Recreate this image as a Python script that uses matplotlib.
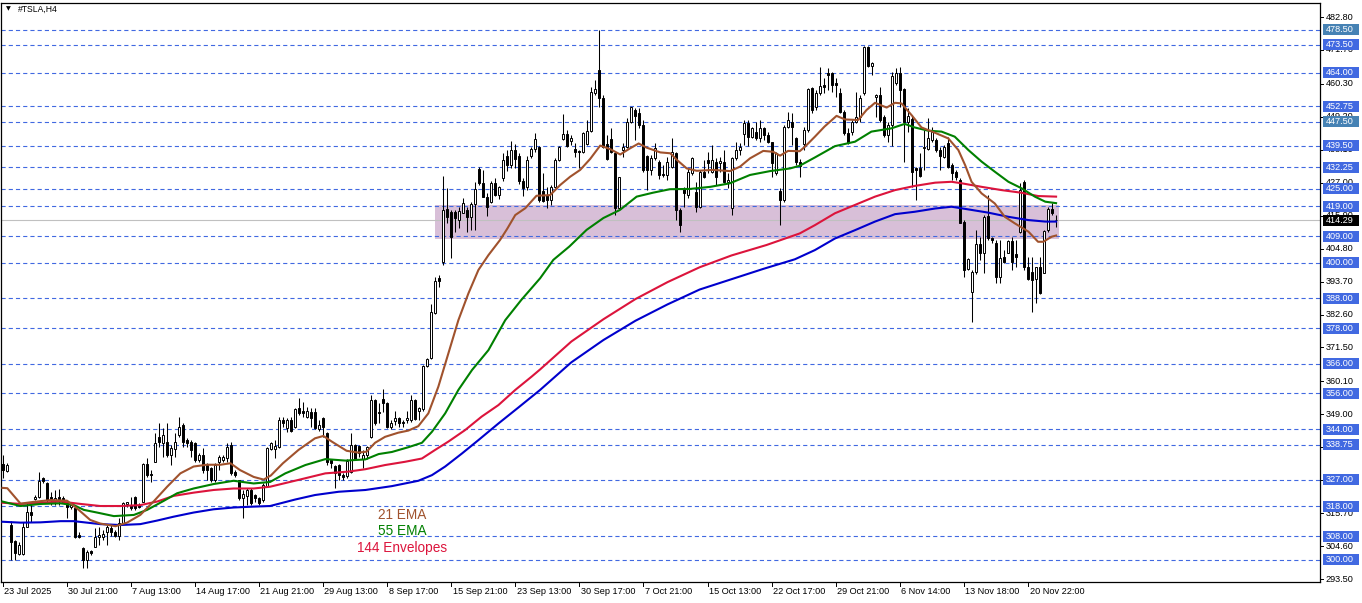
import numpy as np
import matplotlib
matplotlib.use("Agg")
import matplotlib.pyplot as plt
from matplotlib.patches import Rectangle
from matplotlib.lines import Line2D

plt.rcParams['lines.scale_dashes'] = False

# ---------------- DATA ----------------
symbol_title = "#TSLA,H4"

opens = [332.2, 330.0, 311.7, 306.4, 301.9, 301.8, 311.1, 316.2, 320.3, 321.0,
         327.4, 325.9, 321.2, 319.8, 321.0, 320.7, 319.0, 317.6, 317.3, 308.3,
         303.8, 299.9, 303.0, 304.4, 307.8, 307.8, 309.5, 310.6, 309.5, 308.1,
         312.5, 318.9, 318.4, 321.0, 318.4, 319.6, 332.2, 328.8, 333.0, 341.5,
         339.2, 339.8, 335.3, 337.2, 342.0, 345.4, 340.3, 339.8, 339.2, 333.6,
         335.3, 331.9, 330.8, 326.9, 333.0, 333.6, 334.2, 338.6, 329.7, 326.9,
         320.7, 321.5, 323.5, 321.8, 320.7, 320.1, 325.0, 337.2, 337.4, 338.1,
         347.1, 344.3, 347.1, 344.8, 351.0, 350.2, 348.2, 349.6, 349.9, 343.9,
         347.6, 342.8, 333.6, 331.6, 331.9, 328.5, 328.2, 329.7, 338.6, 338.3,
         334.1, 335.3, 341.4, 353.8, 349.9, 354.0, 352.9, 344.8, 346.9, 347.6,
         346.5, 347.1, 347.1, 353.8, 350.2, 350.7, 365.2, 367.8, 383.2, 394.8,
         400.4, 418.0, 417.2, 417.2, 414.5, 416.9, 417.8, 415.3, 419.7, 431.5,
         426.8, 422.3, 420.6, 426.8, 422.8, 428.5, 436.0, 433.0, 438.0, 436.0,
         427.5, 425.5, 436.1, 438.3, 439.1, 424.2, 422.8, 421.2, 425.6, 434.6,
         441.7, 443.3, 441.0, 438.3, 437.5, 437.2, 440.0, 444.4, 457.1, 464.9,
         455.4, 440.0, 441.6, 436.9, 418.6, 438.0, 439.1, 447.3, 451.5, 450.4,
         446.4, 436.0, 431.3, 435.2, 433.8, 429.8, 429.6, 432.4, 436.9, 417.8,
         425.1, 422.8, 430.2, 424.0, 418.9, 430.7, 434.6, 430.7, 434.1, 433.5,
         434.1, 427.3, 418.4, 435.2, 438.0, 443.3, 447.0, 442.5, 444.2, 441.9,
         445.3, 443.1, 440.6, 430.1, 424.2, 421.2, 445.9, 447.5, 442.0, 434.1,
         440.0, 444.7, 458.8, 452.6, 457.3, 459.9, 463.8, 463.8, 460.6, 457.1,
         450.9, 443.6, 444.2, 447.6, 449.0, 457.1, 472.8, 466.4, 455.7, 456.5,
         449.2, 443.1, 446.4, 460.5, 463.8, 458.4, 447.6, 448.4, 431.8, 431.8,
         438.6, 438.2, 441.4, 441.4, 438.0, 435.8, 440.2, 432.9, 430.7, 427.9,
         413.9, 397.8, 390.3, 397.0, 406.3, 403.2, 415.8, 408.2, 406.8, 395.3,
         402.1, 403.4, 407.4, 403.0, 410.5, 427.3, 398.7, 397.0, 394.4, 398.5,
         396.7, 411.0, 418.3, 414.4]

highs = [335.3, 332.5, 313.2, 306.6, 306.1, 312.8, 319.0, 319.0, 321.8, 329.7,
         327.8, 326.3, 322.9, 323.5, 323.7, 321.5, 319.6, 319.0, 318.4, 309.5,
         304.4, 303.3, 303.3, 310.6, 311.1, 310.0, 311.7, 311.7, 310.0, 313.9,
         319.6, 319.6, 321.2, 321.5, 319.0, 332.5, 334.2, 330.2, 342.6, 345.9,
         344.3, 345.9, 338.6, 342.6, 348.2, 345.9, 340.9, 340.3, 339.8, 335.8,
         337.5, 332.5, 331.3, 332.5, 335.3, 335.3, 339.2, 339.8, 330.2, 326.9,
         323.5, 324.0, 324.0, 322.3, 321.2, 325.7, 338.0, 339.8, 340.3, 348.2,
         348.2, 347.6, 348.2, 351.0, 354.4, 353.2, 351.6, 351.0, 351.0, 347.1,
         348.0, 343.1, 333.8, 331.9, 332.2, 329.1, 334.0, 342.6, 338.9, 338.6,
         337.0, 338.3, 355.5, 354.0, 352.7, 357.4, 353.2, 347.1, 350.2, 348.2,
         347.0, 350.2, 355.5, 354.0, 351.6, 365.6, 367.8, 386.1, 395.3, 395.9,
         429.3, 425.1, 417.8, 417.8, 418.7, 421.7, 418.9, 420.6, 427.3, 432.4,
         431.3, 423.4, 427.7, 428.5, 426.0, 437.0, 438.0, 441.0, 440.0, 437.0,
         428.5, 436.0, 439.1, 443.6, 439.5, 430.1, 425.6, 426.2, 435.2, 439.5,
         450.0, 444.7, 443.0, 440.2, 438.0, 444.2, 448.1, 459.3, 461.6, 478.4,
         456.5, 443.0, 445.3, 437.4, 429.0, 440.5, 448.7, 452.6, 452.0, 452.0,
         448.1, 436.3, 436.3, 440.2, 434.6, 433.0, 435.8, 441.9, 437.4, 418.4,
         425.6, 431.8, 435.8, 427.3, 431.3, 434.6, 437.4, 439.7, 435.2, 435.8,
         438.0, 430.1, 435.8, 440.8, 440.2, 448.1, 448.1, 445.9, 447.5, 448.1,
         445.9, 444.2, 440.8, 437.4, 425.1, 446.4, 450.9, 450.4, 442.5, 435.0,
         445.6, 458.8, 459.3, 458.2, 466.1, 462.1, 465.5, 464.4, 462.1, 458.8,
         451.5, 445.3, 448.1, 457.6, 456.5, 473.0, 473.0, 467.8, 457.0, 459.3,
         449.8, 447.6, 464.4, 465.5, 466.1, 458.8, 452.0, 449.8, 432.4, 436.9,
         444.7, 448.7, 445.6, 441.9, 439.1, 439.7, 442.5, 433.5, 431.3, 428.5,
         414.4, 401.5, 397.6, 411.0, 408.8, 416.1, 422.8, 408.8, 407.7, 407.7,
         404.3, 407.7, 408.8, 407.7, 426.8, 427.9, 402.1, 402.1, 398.7, 402.1,
         411.0, 418.9, 420.1, 416.1]

lows = [327.4, 329.7, 299.9, 299.9, 301.6, 301.6, 310.9, 312.8, 320.1, 320.7,
        325.7, 319.6, 318.4, 318.4, 318.4, 319.0, 313.9, 317.2, 307.2, 307.2,
        297.1, 297.1, 301.6, 304.4, 305.0, 306.6, 305.0, 308.1, 307.8, 306.6,
        312.3, 317.9, 316.8, 316.8, 317.3, 319.3, 327.8, 326.3, 333.0, 338.1,
        334.7, 334.7, 331.9, 334.7, 341.5, 338.1, 338.1, 334.7, 333.0, 333.0,
        329.1, 326.9, 326.3, 326.3, 330.2, 333.0, 333.0, 328.5, 328.0, 320.1,
        313.9, 318.4, 318.4, 319.6, 318.4, 319.6, 324.5, 337.0, 334.2, 337.5,
        344.8, 343.1, 343.1, 344.5, 348.8, 348.2, 347.6, 344.8, 343.9, 343.5,
        341.4, 331.9, 330.8, 324.1, 326.9, 326.9, 327.5, 329.1, 333.6, 334.7,
        330.8, 334.1, 340.9, 345.4, 346.0, 349.9, 344.3, 343.9, 345.4, 344.8,
        344.8, 346.0, 346.5, 347.1, 347.1, 350.2, 365.0, 367.5, 382.8, 392.0,
        399.3, 413.3, 401.5, 410.5, 411.6, 416.7, 410.5, 411.1, 411.1, 426.2,
        422.1, 415.8, 420.0, 422.5, 421.5, 427.5, 431.0, 432.0, 432.0, 426.5,
        422.5, 424.5, 435.2, 437.4, 420.6, 420.6, 418.4, 419.5, 425.1, 434.3,
        441.4, 439.1, 439.7, 435.8, 431.8, 436.9, 439.7, 444.2, 456.5, 452.6,
        438.6, 434.6, 436.9, 416.1, 418.4, 435.5, 438.6, 447.0, 441.4, 445.3,
        430.7, 424.5, 429.6, 434.6, 428.4, 429.0, 427.9, 432.0, 414.4, 410.5,
        418.9, 421.7, 429.6, 417.2, 418.4, 428.5, 430.1, 430.1, 426.2, 430.7,
        426.8, 425.1, 416.1, 434.6, 436.3, 439.7, 439.5, 441.9, 441.4, 440.8,
        441.4, 440.2, 429.0, 429.6, 412.7, 420.6, 445.3, 439.7, 433.0, 429.0,
        438.0, 444.2, 450.4, 451.5, 456.5, 457.1, 458.2, 457.6, 456.0, 450.4,
        443.1, 440.0, 443.1, 447.0, 447.6, 456.5, 466.1, 463.3, 449.2, 447.6,
        442.5, 440.8, 439.3, 460.0, 452.6, 434.1, 444.0, 425.6, 421.2, 429.0,
        431.3, 438.0, 440.8, 437.4, 431.3, 435.2, 431.8, 427.9, 427.9, 413.3,
        395.3, 397.6, 380.0, 396.4, 400.9, 396.5, 407.7, 406.6, 393.1, 393.1,
        399.8, 403.2, 397.6, 398.7, 410.2, 397.6, 394.2, 383.5, 386.4, 389.5,
        396.5, 410.5, 416.1, 412.2]

closes = [330.2, 331.9, 306.1, 302.2, 304.9, 311.1, 316.2, 315.1, 321.2, 326.6,
          326.6, 320.1, 320.1, 320.7, 319.9, 319.6, 317.9, 318.4, 307.8, 307.8,
          299.9, 302.7, 302.2, 307.8, 308.3, 308.7, 311.1, 309.2, 308.1, 312.5,
          319.0, 319.3, 317.3, 317.3, 317.9, 332.2, 328.5, 328.5, 339.2, 339.8,
          342.0, 335.3, 337.5, 339.8, 344.8, 339.8, 339.2, 337.0, 333.6, 335.3,
          330.2, 330.2, 326.9, 331.9, 334.7, 334.7, 338.1, 329.1, 328.5, 320.7,
          322.1, 323.5, 319.0, 320.7, 319.0, 325.2, 337.5, 339.2, 338.3, 347.1,
          346.0, 347.1, 343.5, 350.7, 349.3, 349.5, 350.2, 347.6, 344.3, 345.4,
          344.8, 333.0, 332.5, 329.1, 328.5, 328.0, 333.2, 338.6, 334.1, 335.8,
          335.3, 337.9, 353.8, 346.0, 349.3, 352.9, 344.8, 346.0, 347.6, 345.9,
          346.0, 347.6, 353.8, 347.3, 351.0, 365.2, 367.5, 383.6, 394.0, 394.0,
          417.8, 415.3, 408.8, 415.0, 417.5, 420.3, 415.3, 419.8, 424.8, 426.8,
          422.3, 418.9, 426.8, 423.0, 425.4, 434.6, 433.0, 438.0, 435.0, 427.5,
          425.3, 434.5, 438.3, 441.7, 421.2, 420.8, 421.2, 425.6, 434.6, 439.1,
          443.3, 439.5, 442.2, 437.4, 437.3, 443.6, 444.4, 457.6, 458.4, 455.6,
          439.1, 434.9, 437.4, 418.6, 428.8, 439.0, 447.3, 452.4, 449.6, 446.4,
          431.3, 431.3, 435.2, 438.8, 429.6, 429.6, 434.1, 437.2, 417.8, 412.7,
          423.4, 430.7, 435.2, 418.9, 430.7, 429.0, 433.5, 434.6, 429.0, 434.3,
          427.3, 427.9, 435.2, 438.0, 439.1, 447.0, 442.5, 445.5, 441.9, 445.3,
          443.1, 440.8, 433.5, 436.9, 421.2, 445.9, 448.1, 445.9, 434.1, 432.6,
          444.9, 458.4, 451.5, 457.3, 459.6, 459.3, 463.3, 459.9, 460.0, 450.9,
          443.6, 440.2, 447.6, 449.2, 455.4, 472.8, 466.3, 467.2, 456.5, 448.1,
          443.1, 446.4, 462.9, 463.8, 458.2, 447.6, 449.5, 430.7, 431.3, 429.2,
          438.9, 441.9, 444.2, 438.0, 436.0, 439.1, 432.4, 430.1, 429.0, 413.5,
          397.6, 401.2, 397.0, 406.3, 403.2, 415.5, 408.2, 407.7, 395.3, 401.5,
          400.4, 407.4, 400.4, 402.1, 424.5, 398.7, 394.4, 394.2, 398.5, 389.7,
          410.8, 418.3, 416.7, 414.29]

date_labels = ["23 Jul 2025", "30 Jul 21:00", "7 Aug 13:00", "14 Aug 17:00",
               "21 Aug 21:00", "29 Aug 13:00", "8 Sep 17:00", "15 Sep 21:00",
               "23 Sep 13:00", "30 Sep 17:00", "7 Oct 21:00", "15 Oct 13:00",
               "22 Oct 17:00", "29 Oct 21:00", "6 Nov 14:00", "13 Nov 18:00",
               "20 Nov 22:00"]
bars_per_label = 16

# moving averages (bar index, value)
ema21_bars = [0, 1.2, 4.5, 7.8, 12, 16.1, 18.6, 21.9, 24.4, 28.2, 31.1, 34.4, 37.7, 41.1,
              44.4, 47.7, 51, 54.4, 56.9, 59.3, 62.7, 65.2, 67, 70, 73.9, 78, 80.1, 82.2,
              85.9, 88.8, 90.9, 93, 95.5, 98.8, 101.3, 103.8, 106.3, 108.8, 111.3, 113.8,
              116.3, 118.8, 121.3, 124.2, 126, 128, 130.5, 133.3, 136.7, 139.2, 141.7,
              144.2, 146.7, 149.2, 151.7, 154.2, 156.7, 158.8, 160.8, 164.2, 166.7, 168.4,
              170.8, 173.3, 177.4, 181.6, 184.1, 186.6, 189.9, 192.4, 194.1, 196.1, 199,
              200.3, 202.8, 205.2, 208.2, 210.3, 213.6, 215.7, 217.8, 220.7, 222.8, 224.4,
              226.9, 229.4, 232.8, 236.1, 238.6, 240.3, 241.9, 244.4, 247.7, 250.2, 252.7,
              256.1, 258.5, 259.8, 261.9, 263]
ema21_vals = [324.2, 324.1, 318.9, 319.5, 320.1, 319.9, 317.3, 313.4, 312.2, 311.3, 312.5,
              315.1, 319.6, 324.6, 329.1, 331.4, 332.0, 332.0, 332.5, 330.2, 327.9, 327.0,
              328.4, 332.5, 337.0, 340.9, 341.7, 339.8, 336.7, 336.1, 336.4, 339.4, 341.4,
              342.8, 343.5, 345.0, 349.3, 358.3, 369.5, 380.7, 389.7, 397.6, 402.6, 407.7,
              411.5, 416.1, 418.4, 422.6, 422.8, 426.2, 429.0, 431.3, 435.0, 439.5, 438.3,
              436.5, 438.6, 440.2, 438.8, 437.2, 436.9, 434.6, 431.8, 431.0, 431.3, 430.9,
              432.4, 435.2, 437.7, 437.4, 436.1, 437.7, 437.6, 439.1, 442.5, 445.9, 449.5,
              448.3, 448.1, 451.5, 453.9, 452.3, 453.9, 453.7, 449.8, 445.6, 443.8, 441.9,
              438.0, 432.9, 427.3, 423.4, 420.0, 415.5, 413.3, 410.5, 407.1, 407.1, 408.8,
              409.2]

ema55_bars = [0, 4.5, 9.5, 14.5, 17.8, 20.3, 23.6, 27.8, 32.8, 36.1, 40.2, 43.6, 47.7,
              52.7, 57.7, 62.7, 66.8, 70.6, 75.6, 80.6, 85.6, 90.6, 93.9, 97.2, 101.3,
              104.7, 107.2, 110.5, 113.8, 117.2, 121.3, 125.5, 129.5, 134.2, 137.5, 141.5,
              145.8, 150, 154.1, 158.3, 162.3, 166.6, 171.7, 176.7, 181.6, 186.6, 191.6,
              196.6, 199, 202.8, 207.8, 212.8, 216.9, 221.9, 225.2, 227.7, 231.1, 234.4,
              237.7, 241.1, 244.4, 247.7, 251.1, 254.4, 257.7, 260.3, 263]
ema55_vals = [319.6, 318.1, 318.8, 319.0, 318.4, 316.8, 315.9, 314.7, 315.1, 316.8, 319.8,
              322.4, 324.0, 325.5, 326.6, 325.7, 326.2, 329.1, 331.9, 333.9, 333.4, 333.8,
              335.6, 336.3, 337.9, 339.4, 343.1, 349.3, 357.2, 363.9, 370.6, 380.7, 387.5,
              394.8, 401.0, 405.5, 411.1, 415.1, 417.8, 422.3, 423.6, 424.8, 424.9, 425.6,
              426.8, 429.6, 430.9, 431.8, 432.7, 435.5, 439.3, 440.8, 444.2, 445.3, 446.8,
              445.6, 444.5, 444.2, 442.5, 438.0, 434.1, 430.7, 427.3, 425.1, 422.3, 420.6,
              420.1]

env_upper_bars = [0, 4.5, 9.5, 14.5, 19.5, 24.4, 29.4, 34.4, 38.6, 42.7, 47.7, 52.7,
                  57.7, 62.7, 66.8, 73.9, 80.6, 86.4, 90.6, 95.5, 100.5, 104.7, 108,
                  111.3, 115.5, 119.6, 123.8, 128, 132.1, 134.2, 142, 150, 158, 166, 174,
                  182, 190.7, 199, 202.8, 207.8, 212.8, 217.8, 222.8, 227.7, 232.8, 236.9,
                  239.4, 244.4, 249.4, 254.4, 258.5, 263]
env_upper_vals = [319.2, 318.8, 319.2, 319.6, 318.8, 318.1, 318.1, 318.4, 319.6, 321.5,
                  322.6, 323.5, 324.0, 324.0, 324.6, 326.9, 329.1, 329.7, 330.5, 331.9,
                  333.0, 334.1, 337.0, 339.8, 343.7, 348.2, 352.1, 357.2, 361.7, 364.1,
                  373.5, 381.0, 387.8, 393.5, 398.5, 402.5, 406.0, 409.9, 412.7, 416.7,
                  419.5, 422.3, 424.5, 425.9, 427.0, 427.3, 426.8, 425.6, 424.5, 423.6,
                  422.5, 422.3]

env_lower_bars = [0, 4.5, 9.5, 14.5, 17.8, 21.1, 24.4, 29.4, 34.4, 38.6, 42.7, 47.7,
                  52.7, 57.7, 62.7, 66.8, 73.1, 78, 83.9, 90.6, 97.2, 103.8, 107.2, 110.5,
                  114.7, 118.8, 123.8, 128.8, 134.2, 142, 150, 158, 166, 174, 182, 190,
                  197.8, 202.8, 207.8, 212.8, 217.8, 222.8, 227.7, 232.8, 236.9, 241.1,
                  246.1, 251.1, 256.1, 260.3, 263]
env_lower_vals = [312.8, 312.5, 312.6, 313.0, 313.0, 312.5, 312.0, 311.7, 312.0, 313.2,
                  314.5, 315.9, 317.0, 317.6, 317.9, 318.1, 320.3, 321.8, 322.9, 323.5,
                  324.8, 326.6, 328.5, 331.4, 335.8, 340.3, 345.9, 351.3, 357.2, 366.5,
                  374.0, 380.5, 386.0, 391.0, 394.5, 398.0, 401.2, 404.3, 408.2, 411.0,
                  413.9, 416.4, 417.2, 418.3, 418.9, 418.0, 416.9, 415.5, 414.4, 413.9,
                  413.9]

hline_levels = [478.50, 473.50, 464.00, 452.75, 447.50, 439.50, 432.25, 425.00, 419.00,
                409.00, 400.00, 388.00, 378.00, 366.00, 356.00, 344.00, 338.75, 327.00,
                318.00, 308.00, 300.00]
hline_alt_levels = [478.50, 447.50]
axis_ticks = [482.80, 471.70, 460.30, 449.20, 438.10, 427.00, 415.90, 404.80, 393.70,
              382.60, 371.50, 360.10, 349.00, 337.90, 326.80, 315.70, 304.60, 293.50]
zone_low, zone_high = 408.0, 419.5
zone_start_bar, zone_end_bar = 107.9, 263.7
last_price = 414.29

legend_labels = ["21 EMA", "55 EMA", "144 Envelopes"]

# ---------------- LAYOUT ----------------
W, H = 1362, 603
FONT = "Liberation Sans"
C_EMA21, C_EMA55, C_UP, C_LO = "#A0522D", "#008000", "#DC143C", "#0000CD"
C_LINE = "#4169E1"
C_LINE_ALT = "#4682B4"

def fx(px):
    return px / W

def fy(py):
    return 1 - py / H

# price scale: 482.80 sits at pixel row 17, 0.3368 price per pixel
REF_PX, REF_P, PPP = 17, 482.8, 0.3368
AX_L, AX_R, AX_T, AX_B = 1, 1320, 3, 582
X0, DX = 2.5, 4.006
ylo = REF_P - (AX_B - REF_PX) * PPP
yhi = REF_P + (REF_PX - AX_T) * PPP

fig = plt.figure(figsize=(W / 100, H / 100), dpi=100)
fig.patch.set_facecolor("white")
ax = fig.add_axes([fx(AX_L), fy(AX_B), fx(AX_R) - fx(AX_L), fy(AX_T) - fy(AX_B)])
ax.set_xlim((AX_L - X0) / DX, (AX_R - X0) / DX)
ax.set_ylim(ylo, yhi)
ax.set_xticks([])
ax.set_yticks([])
for s in ax.spines.values():
    s.set_color("black")
    s.set_linewidth(0.9)

n = len(opens)
idx = np.arange(n)
o = np.array(opens); h = np.array(highs); l = np.array(lows); c = np.array(closes)

# zone rectangle
ax.add_patch(Rectangle((zone_start_bar, zone_low), zone_end_bar - zone_start_bar,
                       zone_high - zone_low, facecolor="#D8BFD8", edgecolor="none", zorder=0.5))
# horizontal dashed levels
for lv in hline_levels:
    ax.axhline(lv, color=C_LINE, lw=0.8, dashes=(3.0, 2.2), zorder=1)
# last price line
ax.axhline(last_price, color="#C0C0C0", lw=0.8, zorder=1.1)

# candles
ax.vlines(idx, l, h, color="black", lw=0.75, zorder=3)
body_lo = np.minimum(o, c)
body_h = np.maximum(np.abs(c - o), 0.25)
up = c >= o
ax.bar(idx[up], body_h[up], bottom=body_lo[up], width=0.5, facecolor="white",
       edgecolor="black", linewidth=0.7, zorder=3.2)
ax.bar(idx[~up], body_h[~up], bottom=body_lo[~up], width=0.5, facecolor="black",
       edgecolor="black", linewidth=0.7, zorder=3.2)

# moving averages / envelopes
ax.plot(env_lower_bars, env_lower_vals, color=C_LO, lw=1.5, zorder=4)
ax.plot(env_upper_bars, env_upper_vals, color=C_UP, lw=1.5, zorder=4)
ax.plot(ema55_bars, ema55_vals, color=C_EMA55, lw=1.5, zorder=4.1)
ax.plot(ema21_bars, ema21_vals, color=C_EMA21, lw=1.5, zorder=4.2)

# legend text
for txt, col, py in zip(legend_labels, [C_EMA21, C_EMA55, C_UP], [515, 531, 548]):
    fig.text(fx(402), fy(py), txt, color=col, fontsize=9.8, family=FONT,
             ha="center", va="center")

# title
fig.text(fx(8), fy(9), "\u25BC", fontsize=4.5, family="DejaVu Sans", ha="center", va="center")
fig.text(fx(18), fy(9.5), symbol_title, fontsize=6.2, family=FONT, ha="left", va="center")

# right price scale
ax2 = fig.add_axes([fx(AX_R), fy(AX_B), fx(W) - fx(AX_R), fy(AX_T) - fy(AX_B)])
ax2.set_xlim(0, W - AX_R)
ax2.set_ylim(ylo, yhi)
ax2.axis("off")
for p in axis_ticks:
    ax2.plot([0, 3], [p, p], color="black", lw=0.7, clip_on=False)
    ax2.text(5.5, p, f"{p:.2f}", fontsize=6.6, family=FONT, ha="left", va="center",
             color="black")
box_h = 11 * PPP
for lv in hline_levels:
    col = C_LINE_ALT if lv in hline_alt_levels else C_LINE
    ax2.add_patch(Rectangle((2.5, lv - box_h / 2), 36.5, box_h, facecolor=col,
                            edgecolor="none", zorder=5, clip_on=False))
    ax2.text(5.5, lv, f"{lv:.2f}", fontsize=6.6, family=FONT, ha="left", va="center",
             color="white", zorder=6)
ax2.add_patch(Rectangle((2.5, last_price - box_h / 2), 36.5, box_h, facecolor="black",
                        edgecolor="none", zorder=5, clip_on=False))
ax2.text(5.5, last_price, f"{last_price:.2f}", fontsize=6.6, family=FONT, ha="left",
         va="center", color="white", zorder=6)

# time axis labels
for j, lab in enumerate(date_labels):
    xp = X0 + DX * bars_per_label * j
    fig.add_artist(Line2D([fx(xp), fx(xp)], [fy(AX_B), fy(AX_B + 4)], color="black",
                          lw=0.7, transform=fig.transFigure))
    fig.text(fx(xp + 1.5), fy(591), lab, fontsize=6.6, family=FONT, ha="left",
             va="center", color="black")

fig.savefig("out.png", dpi=100, facecolor="white")
